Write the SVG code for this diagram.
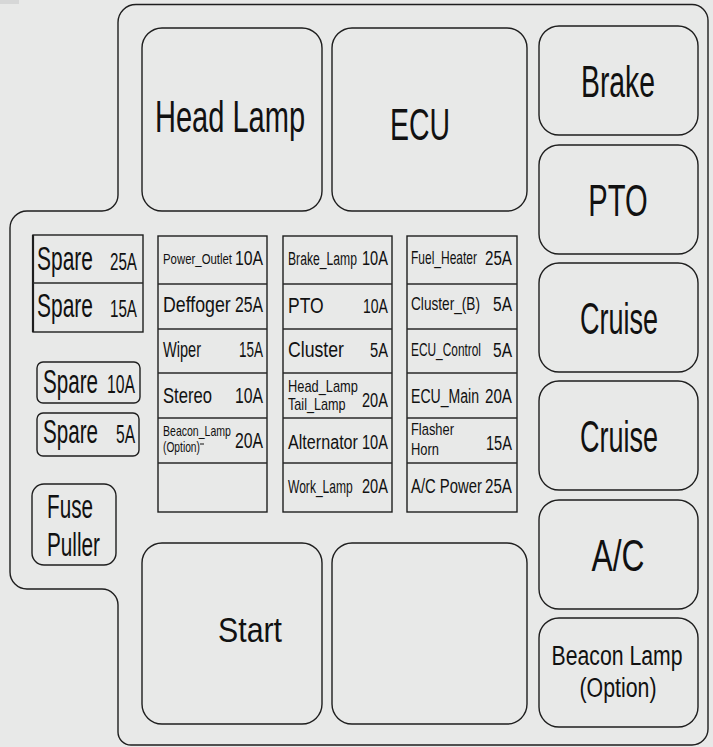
<svg xmlns="http://www.w3.org/2000/svg" width="713" height="747" viewBox="0 0 713 747">
<style>
.bg{fill:#e8e9e8}
.ln{fill:none;stroke:#1e1e1e;stroke-width:1.4}
.bx{fill:#e8e9e8;stroke:#1e1e1e;stroke-width:1.4}
.gr{fill:none;stroke:#2a2a2a;stroke-width:1.4}
text{font-family:"Liberation Sans",Arial,sans-serif;fill:#111}
.big{font-size:44px;text-anchor:middle}
.bl{font-size:28px;text-anchor:middle}
.st{font-size:35px;text-anchor:middle}
</style>
<rect class="bg" x="0" y="0" width="713" height="747"/>
<rect x="0" y="0" width="19" height="4" fill="#d6d7d7"/>
<path class="ln" d="M136,4.5 H692 A16,16 0 0 1 708,20.5 V729 A16,16 0 0 1 692,745 H131 A13,13 0 0 1 118,732 V605 A16,16 0 0 0 102,589 H27 A17,17 0 0 1 10,572 V228 A17,17 0 0 1 27,211 H102 A16,16 0 0 0 118,195 V22.5 A18,18 0 0 1 136,4.5 Z"/>

<g id="head-lamp"><rect class="bx" x="142" y="28" width="180" height="183" rx="20"/><text class="big" transform="translate(230,132) scale(0.66,1)">Head Lamp</text></g>
<g id="ecu"><rect class="bx" x="332" y="28" width="195" height="183" rx="20"/><text class="big" transform="translate(420,140) scale(0.646,1)">ECU</text></g>

<g id="brake"><rect class="bx" x="539" y="26" width="159" height="109" rx="20"/><text class="big" transform="translate(618,97) scale(0.644,1)">Brake</text></g>
<g id="pto-relay"><rect class="bx" x="539" y="145" width="159" height="109" rx="20"/><text class="big" transform="translate(618,216) scale(0.663,1)">PTO</text></g>
<g id="cruise-1"><rect class="bx" x="539" y="263" width="159" height="109" rx="20"/><text class="big" transform="translate(619,334) scale(0.614,1)">Cruise</text></g>
<g id="cruise-2"><rect class="bx" x="539" y="381" width="159" height="109" rx="20"/><text class="big" transform="translate(619,452) scale(0.614,1)">Cruise</text></g>
<g id="ac"><rect class="bx" x="539" y="500" width="159" height="109" rx="20"/><text class="big" transform="translate(618,571) scale(0.723,1)">A/C</text></g>
<g id="beacon-lamp"><rect class="bx" x="539" y="618" width="159" height="109" rx="20"/><text class="bl" transform="translate(617,665) scale(0.758,1)">Beacon Lamp</text><text class="bl" transform="translate(618,697) scale(0.761,1)">(Option)</text></g>

<g id="start"><rect class="bx" x="142" y="543" width="180" height="181" rx="20"/><text class="st" transform="translate(250,642) scale(0.866,1)">Start</text></g>
<g id="empty-relay"><rect class="bx" x="332" y="543" width="195" height="181" rx="20"/></g>

<g id="spare-stack">
<rect class="bx" x="33" y="235" width="110" height="97"/>
<line x1="33" y1="235" x2="33" y2="332" stroke="#1e1e1e" stroke-width="2.2"/>
<line class="gr" x1="33" y1="283" x2="143" y2="283"/>
<text font-size="34" transform="translate(37,270) scale(0.617,1)">Spare</text><text font-size="23" transform="translate(110,270) scale(0.66,1)">25A</text>
<text font-size="34" transform="translate(37,317) scale(0.617,1)">Spare</text><text font-size="23" transform="translate(110,317) scale(0.66,1)">15A</text>
</g>
<g id="spare-10a"><rect class="bx" x="37" y="362" width="103" height="41" rx="6"/><text font-size="34" transform="translate(43,393) scale(0.606,1)">Spare</text><text font-size="26" transform="translate(107,393) scale(0.605,1)">10A</text></g>
<g id="spare-5a"><rect class="bx" x="37" y="413" width="102" height="43" rx="6"/><text font-size="34" transform="translate(43,443) scale(0.606,1)">Spare</text><text font-size="26" transform="translate(116,443) scale(0.6,1)">5A</text></g>
<g id="fuse-puller"><rect class="bx" x="32" y="484" width="84" height="81" rx="12"/><text font-size="33" transform="translate(47,518) scale(0.627,1)">Fuse</text><text font-size="33" transform="translate(47,556) scale(0.629,1)">Puller</text></g>

<g id="fuse-column-1">
<rect class="bx" x="158" y="236" width="109" height="276"/>
<path class="gr" d="M158,284 H267 M158,329 H267 M158,373 H267 M158,418 H267 M158,463 H267"/>
<text font-size="15" transform="translate(163,264) scale(0.76,1)">Power_Outlet</text><text font-size="20" transform="translate(235,265) scale(0.79,1)">10A</text>
<text font-size="22" transform="translate(163,312) scale(0.806,1)">Deffoger</text><text font-size="22" transform="translate(235,312) scale(0.716,1)">25A</text>
<text font-size="22" transform="translate(163,357) scale(0.662,1)">Wiper</text><text font-size="22" transform="translate(239,357) scale(0.614,1)">15A</text>
<text font-size="22" transform="translate(163,403) scale(0.756,1)">Stereo</text><text font-size="22" transform="translate(235,403) scale(0.716,1)">10A</text>
<text font-size="14" transform="translate(163,436) scale(0.753,1)">Beacon_Lamp</text><text font-size="14" transform="translate(163,452) scale(0.731,1)">(Option)</text><line x1="200" y1="444" x2="204" y2="444" stroke="#111" stroke-width="1"/><text font-size="22" transform="translate(235,448) scale(0.716,1)">20A</text>
</g>

<g id="fuse-column-2">
<rect class="bx" x="283" y="236" width="109" height="276"/>
<path class="gr" d="M283,284 H392 M283,329 H392 M283,373 H392 M283,418 H392 M283,463 H392"/>
<text font-size="18" transform="translate(288,265) scale(0.676,1)">Brake_Lamp</text><text font-size="21" transform="translate(362,265) scale(0.695,1)">10A</text>
<text font-size="22" transform="translate(288,313) scale(0.796,1)">PTO</text><text font-size="21" transform="translate(363,313) scale(0.668,1)">10A</text>
<text font-size="22" transform="translate(288,357) scale(0.804,1)">Cluster</text><text font-size="21" transform="translate(370,357) scale(0.7,1)">5A</text>
<text font-size="16" transform="translate(288,392) scale(0.803,1)">Head_Lamp</text><text font-size="16" transform="translate(288,410) scale(0.79,1)">Tail_Lamp</text><text font-size="21" transform="translate(362,407) scale(0.695,1)">20A</text>
<text font-size="21" transform="translate(288,449) scale(0.769,1)">Alternator</text><text font-size="21" transform="translate(362,449) scale(0.695,1)">10A</text>
<text font-size="19" transform="translate(288,493) scale(0.635,1)">Work_Lamp</text><text font-size="21" transform="translate(362,493) scale(0.695,1)">20A</text>
</g>

<g id="fuse-column-3">
<rect class="bx" x="407" y="236" width="110" height="276"/>
<path class="gr" d="M407,284 H517 M407,329 H517 M407,373 H517 M407,418 H517 M407,463 H517"/>
<text font-size="18" transform="translate(411,264) scale(0.667,1)">Fuel_Heater</text><text font-size="21" transform="translate(485,265) scale(0.722,1)">25A</text>
<text font-size="18" transform="translate(411,310) scale(0.758,1)">Cluster_(B)</text><text font-size="21" transform="translate(493,311) scale(0.74,1)">5A</text>
<text font-size="18" transform="translate(411,356) scale(0.66,1)">ECU_Control</text><text font-size="21" transform="translate(493,357) scale(0.74,1)">5A</text>
<text font-size="21" transform="translate(411,403) scale(0.67,1)">ECU_Main</text><text font-size="21" transform="translate(485,403) scale(0.722,1)">20A</text>
<text font-size="17" transform="translate(411,435) scale(0.758,1)">Flasher</text><text font-size="17" transform="translate(411,455) scale(0.76,1)">Horn</text><text font-size="21" transform="translate(486,450) scale(0.695,1)">15A</text>
<text font-size="21" transform="translate(411,493) scale(0.707,1)">A/C Power</text><text font-size="21" transform="translate(485,493) scale(0.722,1)">25A</text>
</g>

<g id="connectors"></g>
</svg>
